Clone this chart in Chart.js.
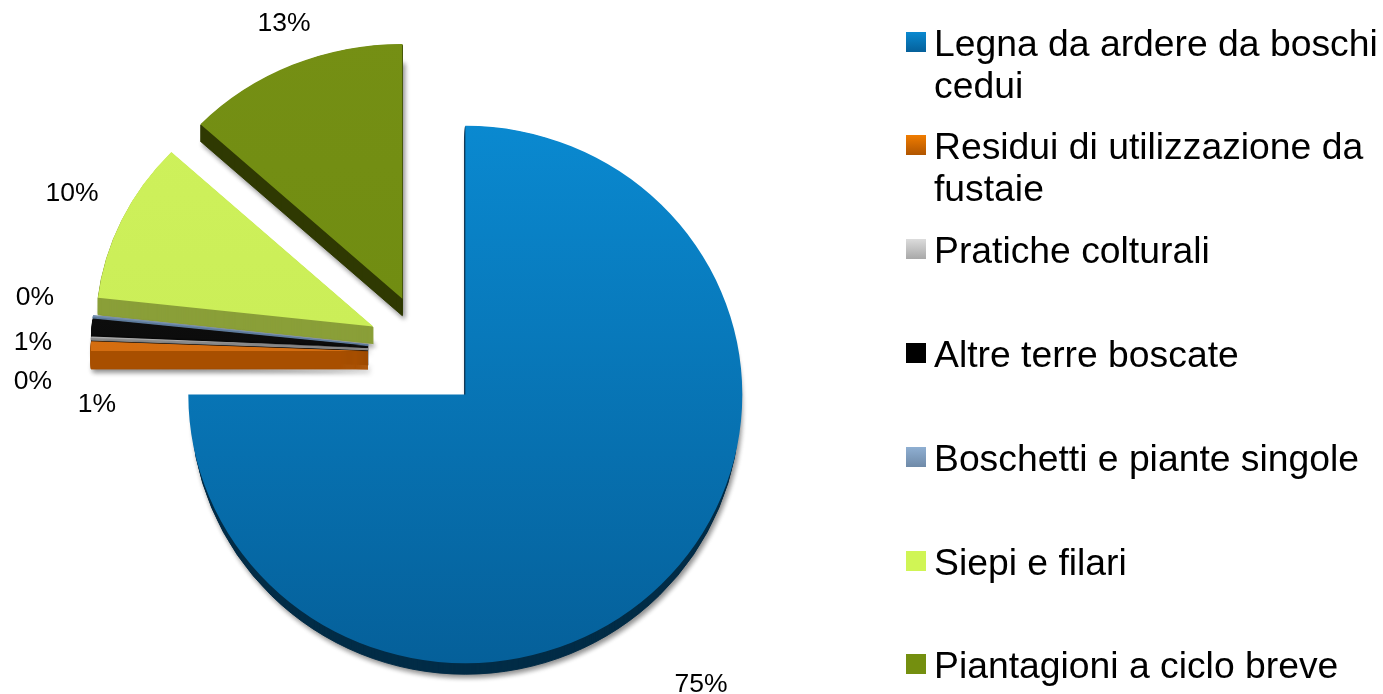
<!DOCTYPE html>
<html>
<head>
<meta charset="utf-8">
<style>html,body{margin:0;padding:0;background:#fff}canvas{display:block}</style>
<script src="https://cdn.jsdelivr.net/npm/chart.js@4"></script>
</head>
<body>
<canvas id="c" width="1383" height="694"></canvas>
<script>
// --- data ---
const categories = [
  ["Legna da ardere da boschi", "cedui"],
  ["Residui di utilizzazione da", "fustaie"],
  ["Pratiche colturali"],
  ["Altre terre boscate"],
  ["Boschetti e piante singole"],
  ["Siepi e filari"],
  ["Piantagioni a ciclo breve"]
];
const values = [75, 0.6, 0.1, 1.0, 0.1, 10.2, 13];

// --- styles ---
const topFrom  = ["#0a89d0", "#e87d12", "#d8d8d8", "#141414", "#8fafd2", "#cff25c", "#758f14"];
const topTo    = ["#05609a", "#d46d10", "#a8a8a8", "#0c0c0c", "#6f8aa8", "#cbee58", "#718d12"];
const sideCols = ["#022c47", "#a85000", "#8a8a8a", "#0a0a0a", "#5d7a9c", "#8a9f38", "#2f3a02"];
const swatchFrom = ["#0a89d0", "#f07c00", "#dcdcdc", "#000000", "#8fafd2", "#d0f555", "#748f0f"];
const swatchTo   = ["#05609a", "#b05500", "#a8a8a8", "#000000", "#6f8aa8", "#d0f555", "#748f0f"];
const explode  = [57, 57, 57, 57, 57, 57, 57];
const squash   = [0.97, 0.92, 0.92, 0.92, 0.92, 0.92, 0.92];
const drop     = [5, 2, 0, 0, 0, 0, 0];
const depth    = [11, 18, 2, 19, 2, 17, 17];
const sideShrink = [0.99, 1, 1, 1, 1, 1, 1];
const explodeYScale = 0.98;
const drawOrder = [6, 5, 4, 3, 2, 1, 0];

// --- text placement ---
const pctX = [701, 97, 33, 33, 35, 72, 284];
const pctY = [685, 405, 382, 343, 298, 194, 24];
const legendSwatchX = 906, legendSwatchSize = 20, legendTextX = 934;
const legendFirstBaseline = [56, 159, 263, 367, 471, 575, 678];
const legendLineStep = 42;
const FONT = '"Liberation Sans", Arial, sans-serif';

const canvas = document.getElementById('c');
const g = canvas.getContext('2d');
function vgrad(y0, y1, a, b) {
  const gr = g.createLinearGradient(0, y0, 0, y1);
  gr.addColorStop(0, a); gr.addColorStop(1, b);
  return gr;
}
const topFills = topFrom.map((a, i) => vgrad(i === 0 ? 73 : 60, i === 0 ? 627 : 350, a, topTo[i]));

function place(ctx, el, i, shrink) {
  const mid = (el.startAngle + el.endAngle) / 2;
  const e = explode[i];
  ctx.translate(Math.cos(mid) * e, Math.sin(mid) * e * explodeYScale + drop[i]);
  ctx.translate(el.x, el.y);
  ctx.scale(shrink || 1, squash[i]);
  ctx.translate(-el.x, -el.y);
}
function withFill(el, fill, border, fn) {
  const orig = el.options;
  const o = Object.create(orig);
  o.backgroundColor = fill;
  if (border) { o.borderWidth = 1; o.borderColor = fill; o.borderJoinStyle = 'round'; }
  el.options = o;
  fn();
  el.options = orig;
}

const pie3d = {
  id: 'pie3d',
  beforeDatasetsDraw(chart) {
    const ctx = chart.ctx;
    const meta = chart.getDatasetMeta(0);
    drawOrder.forEach(i => {
      const el = meta.data[i];
      withFill(el, sideCols[i], true, () => {
        ctx.save();
        ctx.shadowColor = 'rgba(0,0,0,0.45)';
        ctx.shadowBlur = 5;
        ctx.shadowOffsetX = 2;
        ctx.shadowOffsetY = 3;
        ctx.translate(0, depth[i]);
        place(ctx, el, i, sideShrink[i]);
        el.draw(ctx);
        ctx.restore();
        for (let k = depth[i] - 1; k >= 1; k--) {
          ctx.save();
          ctx.translate(0, k);
          place(ctx, el, i, sideShrink[i]);
          el.draw(ctx);
          ctx.restore();
        }
      });
      ctx.save();
      place(ctx, el, i);
      el.draw(ctx);
      ctx.restore();
    });
    return false;
  },
  afterDraw(chart) {
    const ctx = chart.ctx;
    const total = values.reduce((a, b) => a + b, 0);
    ctx.save();
    ctx.fillStyle = '#000';
    ctx.font = '26.5px ' + FONT;
    ctx.textAlign = 'center';
    ctx.textBaseline = 'middle';
    values.forEach((v, i) => {
      ctx.fillText(Math.round(v / total * 100) + '%', pctX[i], pctY[i]);
    });
    ctx.textAlign = 'left';
    ctx.textBaseline = 'alphabetic';
    ctx.font = '37.3px ' + FONT;
    categories.forEach((lines, i) => {
      const b = legendFirstBaseline[i];
      const sy = legendFirstBaseline[i] - 24;
      ctx.fillStyle = vgrad(sy, sy + legendSwatchSize, swatchFrom[i], swatchTo[i]);
      ctx.fillRect(legendSwatchX, sy, legendSwatchSize, legendSwatchSize);
      ctx.fillStyle = '#000';
      lines.forEach((t, k) => ctx.fillText(t, legendTextX, b + k * legendLineStep));
    });
    ctx.restore();
  }
};

new Chart(canvas, {
  type: 'pie',
  data: {
    labels: categories,
    datasets: [{ data: values, backgroundColor: topFills, borderWidth: 0, offset: 0, hoverOffset: 0, clip: false }]
  },
  options: {
    responsive: false,
    animation: false,
    radius: 277,
    rotation: 0,
    layout: { padding: { left: 0, right: 533, top: 6, bottom: 0 } },
    plugins: { legend: { display: false }, tooltip: { enabled: false } },
    events: []
  },
  plugins: [pie3d]
});
</script>
</body>
</html>
